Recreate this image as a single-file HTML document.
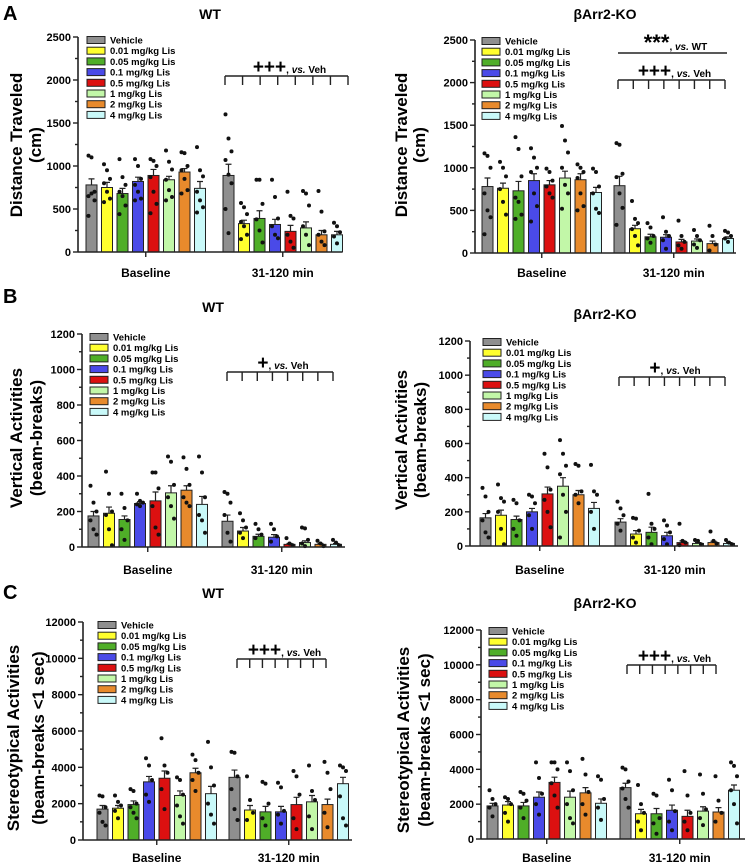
<!DOCTYPE html>
<html><head><meta charset="utf-8">
<style>
html,body{margin:0;padding:0;background:#fff;}
svg{display:block;font-family:"Liberation Sans",Arial,sans-serif;font-weight:bold;}
</style></head>
<body>
<svg id="fig" width="747" height="864" viewBox="0 0 747 864" xmlns="http://www.w3.org/2000/svg">
<text x="3" y="20" font-size="20">A</text>
<text x="3" y="303" font-size="20">B</text>
<text x="3" y="599" font-size="20">C</text>
</svg>
<script>
const groups = ["Baseline", "31-120 min"];
const legendLabels = ["Vehicle","0.01 mg/kg Lis","0.05 mg/kg Lis","0.1 mg/kg Lis","0.5 mg/kg Lis","1 mg/kg Lis","2 mg/kg Lis","4 mg/kg Lis"];
const colors = ["#8f8f8f","#ffff2e","#4fae28","#4a4ae8","#dc1010","#c2f7a8","#e88a2c","#c9f9f9"];

// Panel A WT
const aWtBase = [780,750,680,820,890,840,930,740];
const aWtPost = [890,330,390,320,240,280,200,200];
const aWtBaseErr = [70,60,60,50,70,40,40,80];
const aWtPostErr = [130,40,90,60,70,70,50,40];
const aWtBaseDots = [[1120,1100,700,650,680,600,420],[1020,950,850,800,700,620,580],[1080,870,780,700,650,540,440],[1080,1000,850,780,700,620,600],[1080,1060,1000,870,700,560,450],[1180,1050,960,840,720,640,600],[1160,1150,1000,950,850,720,680],[1220,950,880,700,600,520,460]];
const aWtPostDots = [[1600,1320,1170,1070,900,800,500,220],[570,520,440,350,300,200,150],[840,840,560,380,250,110],[840,640,390,300,200,160],[700,420,390,200,120,50],[710,680,540,300,200,80],[710,470,240,200,120,80],[340,300,230,180,100]];
// Panel A KO
const aKoBase = [780,760,730,850,800,880,860,710];
const aKoPost = [790,285,190,185,130,140,110,170];
const aKoBaseErr = [100,60,110,80,50,80,70,60];
const aKoPostErr = [110,40,30,30,30,25,30,20];
const aKoBaseDots = [[1170,1140,1000,700,500,420,220],[1070,1000,900,750,600,450],[1360,1220,900,650,600,450,400],[1230,1120,1000,950,700,550,370],[990,950,850,780,700,650],[1490,1320,1180,1000,800,700,520],[1040,1000,950,880,700,550,500],[990,950,780,700,520,470]];
const aKoPostDots = [[1290,1270,930,890,700,530,330],[610,400,350,280,200,90],[350,300,200,170,120],[420,250,200,150,50],[380,200,130,90,50],[270,200,150,100,60],[320,200,100,30],[260,240,200,170,130]];
// Panel B WT
const bWtBase = [175,190,155,245,260,305,320,240];
const bWtPost = [145,90,60,55,15,25,15,15];
const bWtBaseErr = [25,35,20,10,50,40,25,45];
const bWtPostErr = [35,20,12,15,5,10,5,5];
const bWtBaseDots = [[345,250,200,150,100,70],[425,300,200,180,100,10],[300,220,150,100,40],[300,260,250,240,230],[420,420,330,230,110,70],[510,480,350,280,230,160],[505,440,350,280,250,230],[510,420,280,180,150,80]];
const bWtPostDots = [[310,300,250,180,80,30],[190,150,110,80,50],[130,100,70,50],[130,100,60,30],[50,20,10],[110,105,40,20,5],[35,20,5],[40,25,10]];
// Panel B KO
const bKoBase = [165,180,155,200,305,350,300,220];
const bKoPost = [140,70,80,60,20,15,20,15];
const bKoBaseErr = [25,30,20,20,40,50,25,35];
const bKoPostErr = [20,20,30,20,10,5,8,5];
const bKoBaseDots = [[340,290,200,150,80,50],[360,280,260,200,100,10],[270,250,150,100,60],[300,290,250,180,100],[540,460,330,270,200,110],[620,540,470,420,300,200,50],[480,470,320,300,250],[475,320,300,200,100]];
const bKoPostDots = [[260,220,180,130,90],[165,160,90,50,20],[305,130,100,50,10],[150,120,80,40,10],[130,30,20,5],[35,30,10],[85,30,15],[35,20,10]];
// Panel C WT
const cWtBase = [1700,1750,1950,3200,3400,2450,3700,2550];
const cWtPost = [3450,1650,1550,1550,1950,2100,1950,3100];
const cWtBaseErr = [200,150,200,300,400,250,250,400];
const cWtPostErr = [400,250,300,300,400,350,300,350];
const cWtBaseDots = [[2450,2400,1800,1500,1000,800],[2450,2100,1900,1600,1200],[2800,2700,2000,1800,1500,1200],[4500,4100,3300,2500,2100],[5600,4100,3700,2800,1700],[3450,3300,2500,1900,1300,900],[4700,4400,3700,3300,2700],[5400,4000,3000,2000,1400,900]];
const cWtPostDots = [[4850,4800,3500,2800,1700,1100],[3500,2200,1500,1100],[3200,3100,2000,1200,800],[3150,2900,1600,1400,900],[3800,3500,2500,1200,600],[4100,2700,2200,1300,600],[4300,3700,2800,1500,700],[4100,4000,3800,2400,1200,800]];
// Panel C KO
const cKoBase = [1900,1950,1900,2400,3250,2400,2650,2050];
const cKoPost = [2950,1450,1450,1650,1300,1600,1550,2800];
const cKoBaseErr = [150,200,200,300,300,350,300,250];
const cKoPostErr = [250,250,300,300,350,250,250,300];
const cKoBaseDots = [[2800,2300,2000,1800,1300],[2400,2300,2000,1500,1000],[2700,2600,2200,1800,1200],[4400,3500,2600,2000,1400],[4400,4400,4000,3200,2500,1800],[4400,3900,2800,2000,1200,900],[4600,3700,2700,2000,1400],[3600,3400,2300,1800,1100]];
const cKoPostDots = [[4100,4000,3300,2900,2300,1800],[3100,2000,1500,1000,500],[2600,2500,1200,900,300],[3400,2800,1600,1000,500],[3900,2500,1500,1000,500],[3700,2600,1700,1200,800],[3600,2200,1500,1000],[4400,4200,3600,2800,2000,900]];

const NS = "http://www.w3.org/2000/svg";
const svg = document.getElementById("fig");
function mk(parent, tag, attrs) {
  const e = document.createElementNS(NS, tag);
  for (const k in attrs) e.setAttribute(k, attrs[k]);
  parent.appendChild(e);
  return e;
}

const panels = [
 {id:"a-wt", title:"WT", tx:210, ty:19, ax:78, y0:252, ytop:37, xend:342, s:[86,223], max:2500, major:500, ytitle:["Distance Traveled","(cm)"], ytx:[15,34], yc:145, lx:87, ly:40, glY:277, base:aWtBase, post:aWtPost, be:aWtBaseErr, pe:aWtPostErr, bd:aWtBaseDots, pd:aWtPostDots, br:[{y:76,x1:225,x2:348,sym:"+++",ss:19,tick:true}]},
 {id:"a-ko", title:"βArr2-KO", tx:605, ty:19, ax:475, y0:253, ytop:40, xend:736, s:[482,614], max:2500, major:500, ytitle:["Distance Traveled","(cm)"], ytx:[400,418], yc:145, lx:482, ly:41, glY:277, base:aKoBase, post:aKoPost, be:aKoBaseErr, pe:aKoPostErr, bd:aKoBaseDots, pd:aKoPostDots, br:[{y:53,x1:618,x2:727,sym:"***",ss:22,tick:false,tag:"vs. WT"},{y:80,x1:618,x2:725,sym:"+++",ss:19,tick:true}]},
 {id:"b-wt", title:"WT", tx:213, ty:312, ax:82, y0:547, ytop:334, xend:345, s:[88,222], max:1200, major:200, ytitle:["Vertical Activities","(beam-breaks)"], ytx:[15,35], yc:438, lx:90, ly:337, glY:574, base:bWtBase, post:bWtPost, be:bWtBaseErr, pe:bWtPostErr, bd:bWtBaseDots, pd:bWtPostDots, br:[{y:372,x1:227,x2:333,sym:"+",ss:19,tick:true}]},
 {id:"b-ko", title:"βArr2-KO", tx:605, ty:319, ax:470, y0:546, ytop:341, xend:738, s:[480,615], max:1200, major:200, ytitle:["Vertical Activities","(beam-breaks)"], ytx:[400,419], yc:440, lx:483, ly:342, glY:574, base:bKoBase, post:bKoPost, be:bKoBaseErr, pe:bKoPostErr, bd:bKoBaseDots, pd:bKoPostDots, br:[{y:377,x1:619,x2:725,sym:"+",ss:19,tick:true}]},
 {id:"c-wt", title:"WT", tx:213, ty:598, ax:83, y0:840, ytop:622, xend:352, s:[97,229], max:12000, major:2000, ytitle:["Stereotypical Activities","(beam-breaks <1 sec)"], ytx:[12,37], yc:738, lx:98, ly:625, glY:862, base:cWtBase, post:cWtPost, be:cWtBaseErr, pe:cWtPostErr, bd:cWtBaseDots, pd:cWtPostDots, br:[{y:659,x1:237,x2:326,sym:"+++",ss:19,tick:true}]},
 {id:"c-ko", title:"βArr2-KO", tx:605, ty:608, ax:481, y0:839, ytop:630, xend:745, s:[487,620], max:12000, major:2000, ytitle:["Stereotypical Activities","(beam-breaks <1 sec)"], ytx:[402,423], yc:740, lx:489, ly:631, glY:862, base:cKoBase, post:cKoPost, be:cKoBaseErr, pe:cKoPostErr, bd:cKoBaseDots, pd:cKoPostDots, br:[{y:665,x1:627,x2:716,sym:"+++",ss:19,tick:true}]}
];

const STEP = 15.5, BW = 11;
panels.forEach(p => {
  const g = mk(svg, "g", {});
  
  
  const yS = v => p.y0 - (v / p.max) * (p.y0 - p.ytop);
  const xS = (gi, i) => p.s[gi] + i * STEP;

  const t = mk(g, "text", {x:p.tx, y:p.ty, "font-size":14, "text-anchor":"middle"});
  t.textContent = p.title;
  
  

  p.ytitle.forEach((s, k) => {
    const yt = mk(g, "text", {x:0, y:0, "font-size":17, "text-anchor":"middle", transform:`translate(${p.ytx[k]+7},${p.yc}) rotate(-90)`});
    yt.textContent = s;
    
    
  });

  [[p.base, p.be, p.bd], [p.post, p.pe, p.pd]].forEach((set, gi) => {
    set[0].forEach((v, i) => {
      const x = xS(gi, i);
      const r = mk(g, "rect", {x:x, y:yS(v), width:BW, height:p.y0 - yS(v), fill:colors[i], stroke:"#222", "stroke-width":1});
      
      
      const cx = x + BW / 2, ye = yS(v + set[1][i]);
      const e = mk(g, "path", {d:`M${cx},${yS(v)}V${ye}M${cx-3},${ye}H${cx+3}`, stroke:"#222", "stroke-width":1.2, fill:"none"});
      
      
      set[2][i].forEach((d, k) => {
        const off = ((k % 3) - 1) * 3;
        const c = mk(g, "circle", {cx:cx + off, cy:yS(d), r:2, fill:"#111"});
        
        
      });
    });
  });

  const ya = mk(g, "line", {x1:p.ax, y1:p.y0, x2:p.ax, y2:p.ytop, stroke:"#222", "stroke-width":1.6});
  
  
  const xa = mk(g, "line", {x1:p.ax, y1:p.y0, x2:p.xend, y2:p.y0, stroke:"#222", "stroke-width":1.6});
  
  
  for (let v = 0; v <= p.max + 1e-9; v += p.major / 2) {
    const isMaj = Math.abs(v / p.major - Math.round(v / p.major)) < 1e-6;
    mk(g, "line", {x1:p.ax - (isMaj ? 5 : 3), y1:yS(v), x2:p.ax, y2:yS(v), stroke:"#222", "stroke-width":1.4});
    if (isMaj) {
      const tl = mk(g, "text", {x:p.ax - 7, y:yS(v) + 4, "font-size":11, "text-anchor":"end"});
      tl.textContent = v;
      
      
    }
  }
  groups.forEach((gn, gi) => {
    const cx = xS(gi, 0) + (7 * STEP + BW) / 2;
    mk(g, "line", {x1:cx, y1:p.y0, x2:cx, y2:p.y0 + 5, stroke:"#222", "stroke-width":1.4});
    const gl = mk(g, "text", {x:cx, y:p.glY, "font-size":12, "text-anchor":"middle"});
    gl.textContent = gn;
    
    
  });

  legendLabels.forEach((lab, i) => {
    const y = p.ly + i * 10.7;
    const sw = mk(g, "rect", {x:p.lx, y:y - 3.5, width:18, height:7, fill:colors[i], stroke:"#222", "stroke-width":1});
    
    
    const lt = mk(g, "text", {x:p.lx + 23, y:y + 3.5, "font-size":9.5});
    lt.textContent = lab;
    
    
  });

  p.br.forEach(b => {
    let d = `M${b.x1},${b.y}H${b.x2}`;
    if (b.tick) {
      for (let i = 0; i < 8; i++) {
        const tx = b.x1 + i * (b.x2 - b.x1) / 7;
        d += `M${tx},${b.y}V${b.y + 9}`;
      }
    }
    const bp = mk(g, "path", {d:d, stroke:"#222", "stroke-width":1.4, fill:"none"});
    
    
    const st = mk(g, "text", {x:(b.x1 + b.x2) / 2 + 3, y:b.y - 3, "font-size":10, "text-anchor":"middle"});
    const s1 = mk(st, "tspan", {"font-size":b.ss, "font-weight":"900"});
    s1.textContent = b.sym;
    const s2 = mk(st, "tspan", {"font-size":10});
    s2.textContent = ", ";
    const s3 = mk(st, "tspan", {"font-size":10, "font-style":"italic"});
    s3.textContent = "vs.";
    const s4 = mk(st, "tspan", {"font-size":10});
    s4.textContent = " " + (b.tag ? "WT" : "Veh");
    
    
  });
});
</script>
</body></html>
